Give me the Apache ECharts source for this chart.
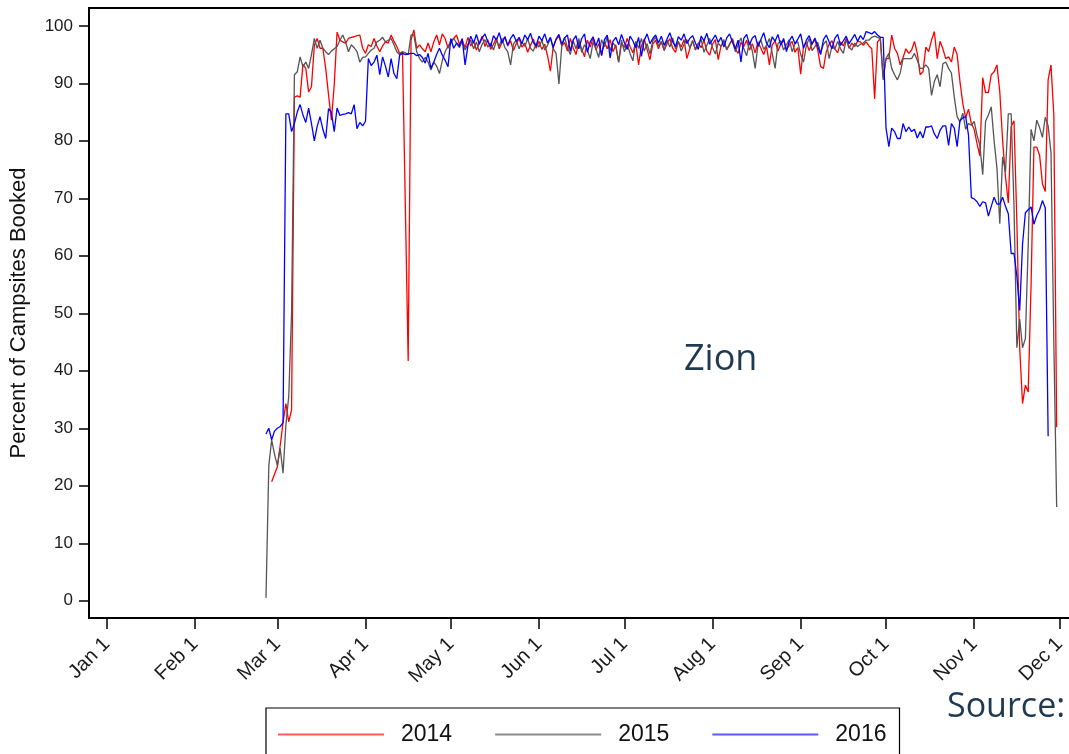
<!DOCTYPE html>
<html>
<head>
<meta charset="utf-8">
<script src="https://cdn.jsdelivr.net/npm/echarts@6/dist/echarts.min.js"></script>
<style>
  html, body { margin: 0; padding: 0; background: #fff; }
  #chart { width: 1069px; height: 754px; }
</style>
</head>
<body>
<div id="chart"></div>
<script>
// x axis is day of year (leap-year calendar), ticks on the 1st of each month
const monthDays = [0, 31, 60, 91, 121, 152, 182, 213, 244, 274, 305, 335]
const monthLabels = ['Jan 1', 'Feb 1', 'Mar 1', 'Apr 1', 'May 1', 'Jun 1',
  'Jul 1', 'Aug 1', 'Sep 1', 'Oct 1', 'Nov 1', 'Dec 1']
const yTicks = [0, 10, 20, 30, 40, 50, 60, 70, 80, 90, 100]

const years = ['2014', '2015', '2016']

// 2014, first value is day 58
const start2014 = 58
const values2014 = [
  20.7, 22.0, 23.3, 27.0, 31.0, 34.3, 31.1, 33.2,
  87.6, 87.8, 87.6, 93.3, 92.6, 88.5, 89.4, 96.6, 97.8, 96.1,
  96.1, 92.6, 88.0, 83.6, 89.7, 98.9, 97.5, 97.2, 97.0, 97.8,
  98.0, 98.1, 98.3, 98.4, 96.1, 95.2, 96.7, 96.4, 97.8, 96.5,
  95.5, 96.5, 97.2, 97.0, 98.4, 97.3, 96.4, 95.2, 95.5, 68.6,
  41.7, 97.5, 99.3, 96.1, 96.7, 96.0, 95.5, 97.0, 95.5, 97.2,
  98.4, 96.7, 98.6, 97.8, 96.1, 97.5, 97.8, 98.4, 96.8, 97.5,
  96.2, 98.0, 96.5, 97.3, 95.8, 97.0, 98.2, 96.4, 97.6, 95.9,
  96.8, 97.9, 96.0, 97.2, 98.1, 96.5, 97.4, 95.7, 96.9, 97.8,
  96.3, 97.0, 95.4, 96.6, 97.7, 96.1, 97.3, 95.9, 96.8, 94.8,
  92.1, 96.4, 97.6, 98.2, 96.5, 97.1, 95.6, 97.8, 96.2, 95.0,
  97.3, 96.0, 94.6, 97.5, 96.3, 97.9, 95.8, 96.9, 94.9, 97.2,
  96.0, 97.6, 95.5, 96.7, 93.7, 97.0, 96.2, 97.8, 96.4, 95.3,
  97.1, 93.2, 96.5, 97.7, 95.9, 94.1, 96.8, 97.5, 96.0, 97.3,
  95.7, 96.9, 97.8, 96.1, 95.4, 97.2, 96.3, 97.6, 94.3, 96.0,
  97.4, 95.8, 97.0, 96.2, 97.5, 95.6, 94.9, 96.8, 97.6, 94.1,
  96.5, 97.3, 95.9, 96.7, 97.8, 96.0, 95.2, 97.1, 96.4, 97.5,
  95.8, 96.9, 95.3, 97.2, 96.1, 95.0, 96.4, 93.2, 96.7, 97.4,
  95.6, 96.8, 97.5, 95.9, 96.6, 97.3, 95.4, 96.2, 91.6, 96.5,
  97.1, 95.7, 96.9, 97.6, 95.8, 92.9, 92.6, 95.5, 96.8, 97.4,
  96.0, 95.3, 97.2, 96.5, 97.8, 96.1, 97.0, 96.4, 97.3, 97.2,
  96.6, 97.2, 96.5, 96.0, 87.3, 97.2, 97.8, 91.0, 94.3, 94.3,
  98.4, 96.1, 95.2, 93.2, 94.5, 96.0, 95.2, 95.8, 97.3, 95.2,
  91.5, 92.0, 96.3, 95.5, 97.5, 99.0, 94.3, 97.3, 96.0, 94.3,
  94.6, 93.7, 96.3, 95.0, 90.3, 86.5, 84.0, 85.5, 83.0, 82.0,
  79.5, 77.4, 91.0, 88.4, 88.4, 91.5, 92.0, 93.2, 88.5, 80.0,
  73.8, 69.2, 82.5, 83.5, 66.0, 44.0, 34.3, 37.5, 36.3, 55.0,
  78.9, 78.9, 77.5, 72.5, 71.2, 90.6, 93.2, 84.5, 30.2
]

// 2015, first value is day 56
const start2015 = 56
const values2015 = [
  0.5, 23.5, 28.0, 25.5, 23.5, 26.5, 22.2, 30.5, 35.5, 50.0,
  91.5, 92.0, 94.6, 92.9, 93.7, 92.6, 95.0, 97.8, 96.1, 97.5,
  96.1, 95.5, 95.0, 95.6, 96.0, 96.4, 97.5, 98.4, 97.2, 95.5,
  96.7, 96.2, 95.5, 93.7, 94.5, 94.6, 95.2, 95.8, 96.1, 97.2,
  97.5, 98.0, 97.2, 97.5, 97.8, 96.7, 95.5, 95.0, 95.5, 95.3,
  95.0, 98.4, 98.4, 95.5, 94.3, 93.7, 94.5, 93.7, 92.3, 93.7,
  93.0, 91.7, 94.0, 95.5, 96.5, 97.0, 97.8, 97.0, 96.2, 97.3,
  95.8, 96.8, 97.5, 96.0, 97.2, 95.5, 96.8, 97.6, 96.3, 97.0,
  95.8, 97.4, 96.5, 97.8, 96.2, 95.5, 93.2, 96.8, 97.5, 96.0,
  97.2, 96.4, 97.8, 96.1, 95.6, 97.0, 96.3, 97.5, 95.8, 96.6,
  97.9, 96.0, 95.2, 89.9, 96.5, 98.0, 96.2, 95.0, 97.4, 96.0,
  97.8, 95.4, 96.7, 95.8, 94.3, 97.2, 96.0, 94.5, 97.6, 96.3,
  98.2, 95.7, 97.0, 96.4, 93.7, 97.5, 95.5, 96.8, 95.2, 93.9,
  97.3, 96.1, 97.8, 95.6, 96.9, 95.1, 97.4, 98.0, 96.5, 97.2,
  95.8, 97.5, 96.3, 97.9, 96.0, 97.3, 95.6, 96.8, 97.6, 96.2,
  97.4, 95.9, 96.9, 97.7, 95.4, 96.6, 97.8, 96.2, 95.1, 97.0,
  96.4, 97.6, 95.8, 96.9, 97.5, 95.5, 96.7, 97.9, 96.0, 94.8,
  97.2, 95.6, 92.6, 96.8, 97.5, 95.9, 96.6, 97.8, 95.2, 92.6,
  96.9, 97.4, 95.8, 96.7, 97.6, 95.5, 96.9, 97.2, 95.0, 93.7,
  96.6, 97.8, 95.7, 96.4, 97.1, 95.3, 96.8, 97.4, 94.3, 96.5,
  95.9, 97.3, 96.0, 95.2, 97.6, 96.3, 95.8, 97.0, 96.4, 96.8,
  97.0, 97.5, 97.5, 98.0, 98.2, 98.0, 97.8, 90.6, 94.3, 95.2,
  92.6, 91.5, 90.6, 91.8, 94.3, 94.3, 94.3, 94.3, 95.2, 94.0,
  92.6, 92.6, 93.2, 92.6, 87.9, 90.3, 91.5, 89.4, 93.4, 93.7,
  92.6, 91.8, 87.6, 84.2, 83.3, 84.8, 82.0, 83.0, 82.7, 83.4,
  81.0, 79.2, 74.1, 83.4, 84.5, 85.9, 80.0, 75.3, 65.6, 77.2,
  74.6, 84.7, 84.7, 68.6, 44.0, 49.0, 44.0, 45.6, 62.0, 82.0,
  80.0, 83.6, 82.3, 80.6, 84.1, 82.6, 78.0, 45.0, 16.3
]

// 2016, first value is day 56
const start2016 = 56
const values2016 = [
  29.0, 30.0, 28.0, 29.5, 30.0, 30.3, 31.0, 84.7, 84.7, 81.6,
  83.0, 85.0, 86.3, 84.5, 83.2, 85.7, 83.0, 80.0, 82.5, 84.2,
  82.0, 80.4, 85.6, 85.0, 81.6, 85.7, 84.4, 84.6, 84.7, 84.9,
  84.7, 86.3, 82.1, 83.2, 82.6, 83.4, 94.3, 93.1, 93.7, 94.9,
  91.5, 94.6, 93.0, 91.1, 94.3, 91.7, 90.8, 94.9, 95.2, 95.0,
  95.1, 95.2, 95.2, 94.8, 95.0, 94.5, 93.5, 95.2, 92.6, 93.7,
  95.0, 96.1, 94.9, 94.0, 92.9, 97.8, 96.1, 97.0, 96.5, 97.8,
  93.2, 96.5, 98.2, 97.0, 98.5, 96.8, 97.9, 98.6, 97.2, 96.4,
  98.3, 97.5, 98.8, 97.0, 98.1, 96.6, 97.8, 98.5, 97.3, 98.0,
  96.9, 98.4, 97.6, 98.7, 97.1, 96.5, 98.2, 97.4, 98.6, 97.0,
  98.0, 96.2, 97.7, 98.5, 96.8, 97.9, 98.4, 95.6, 97.5, 98.3,
  96.0, 97.8, 98.6, 95.4, 97.2, 98.1, 96.5, 97.9, 94.8, 97.6,
  98.4, 94.4, 97.3, 98.0, 96.7, 98.5, 97.1, 95.9, 98.2, 97.4,
  96.2, 98.0, 94.7, 97.5, 98.6, 96.9, 97.8, 98.4, 97.0, 98.2,
  96.6, 97.7, 98.8, 97.2, 96.4, 98.1, 97.5, 98.6, 96.9, 97.8,
  98.3, 97.0, 95.9, 98.2, 97.4, 98.7, 96.8, 97.6, 98.4, 97.1,
  98.0, 96.3, 97.9, 98.6, 97.2, 96.0, 97.5, 93.7, 97.8, 98.5,
  96.7, 97.9, 98.3, 96.4, 97.6, 98.8, 97.0, 96.2, 98.1, 97.3,
  98.5, 96.6, 97.8, 95.5, 97.4, 98.2, 96.9, 97.7, 98.6, 96.1,
  97.5, 98.3, 96.8, 97.9, 96.4, 95.0, 97.6, 98.4, 97.2, 96.0,
  97.8, 98.5, 96.6, 97.4, 98.2, 96.9, 97.7, 98.5, 97.3, 98.3,
  97.6, 99.0, 98.8, 98.6, 99.0, 98.4, 98.0, 98.0, 82.2, 79.0,
  82.2, 81.6, 80.4, 80.4, 83.0, 81.6, 82.4, 81.6, 82.0, 80.5,
  81.6, 80.5, 82.4, 82.4, 82.6, 81.2, 80.4, 81.8, 82.6, 82.6,
  79.2, 83.0, 82.2, 79.0, 83.5, 84.0, 84.2, 81.0, 70.1, 69.9,
  69.4, 68.6, 69.4, 69.2, 66.9, 68.6, 70.2, 69.0, 69.0, 70.2,
  68.6, 67.3, 60.4, 60.4, 56.5, 50.5, 62.0, 67.5, 68.0, 68.5,
  65.5, 67.0, 68.0, 69.6, 68.3, 28.6
]

const lineColors = ['#ff0000', '#555555', '#0000ff']
const legendColors = ['#ff5a5a', '#8c8c8c', '#5a5aff']

function toPoints(start, values) {
  return values.map((v, i) => [start + i, v])
}

const seriesData = [
  toPoints(start2014, values2014),
  toPoints(start2015, values2015),
  toPoints(start2016, values2016)
]

const myChart = echarts.init(document.getElementById('chart'), null, { renderer: 'canvas' })

const option = {
  animation: false,
  backgroundColor: '#fff',
  textStyle: { fontFamily: 'Liberation Sans, Arial, sans-serif' },
  grid: {
    left: 89,
    top: 8,
    right: -40, // runs past the right edge, the source image is cropped there
    bottom: 136,
    outerBoundsMode: 'none',
    containLabel: false,
    show: true,
    borderColor: '#000',
    borderWidth: 2
  },
  legend: {
    left: 266,
    top: 708,
    orient: 'horizontal',
    padding: [15, 13, 40, 12],
    itemGap: 43,
    itemWidth: 106,
    itemHeight: 2,
    icon: 'rect',
    borderColor: '#000',
    borderWidth: 1.2,
    textStyle: {
      fontSize: 23,
      color: '#111',
      padding: [0, 0, 0, 12]
    },
    data: years.map((y, i) => ({ name: y, itemStyle: { color: legendColors[i] } }))
  },
  xAxis: {
    type: 'value',
    min: -6.22,
    max: 352.4,
    splitLine: { show: false },
    axisLine: { show: true, onZero: false, lineStyle: { color: '#000', width: 2 } },
    axisTick: {
      show: true,
      customValues: monthDays,
      length: 11,
      lineStyle: { color: '#000', width: 1.5 }
    },
    axisLabel: {
      customValues: monthDays,
      rotate: 45,
      margin: 23,
      fontSize: 20,
      color: '#1a1a1a',
      formatter: (v) => monthLabels[monthDays.indexOf(v)] || ''
    }
  },
  yAxis: {
    type: 'value',
    min: -3.0,
    max: 103.1,
    name: 'Percent of Campsites Booked',
    nameLocation: 'middle',
    nameGap: 59,
    nameTextStyle: { fontSize: 22, color: '#111' },
    splitLine: { show: false },
    axisLine: { show: true, onZero: false, lineStyle: { color: '#000', width: 2 } },
    axisTick: {
      show: true,
      customValues: yTicks,
      length: 10,
      lineStyle: { color: '#000', width: 1.5 }
    },
    axisLabel: {
      customValues: yTicks,
      margin: 16,
      fontSize: 17,
      color: '#1a1a1a'
    }
  },
  graphic: [
    {
      type: 'text',
      left: 684,
      top: 342,
      style: {
        text: 'Zion',
        font: '36px "Open Sans"',
        fill: '#1f3a50'
      }
    },
    {
      type: 'text',
      left: 947,
      top: 690,
      style: {
        text: 'Source:',
        font: '34px "Open Sans"',
        fill: '#1f3a50'
      }
    }
  ],
  series: years.map((y, i) => ({
    name: y,
    type: 'line',
    data: seriesData[i],
    showSymbol: false,
    symbol: 'none',
    clip: true,
    lineStyle: { color: lineColors[i], width: 1.3 },
    itemStyle: { color: lineColors[i] }
  }))
}

myChart.setOption(option)
</script>
</body>
</html>
